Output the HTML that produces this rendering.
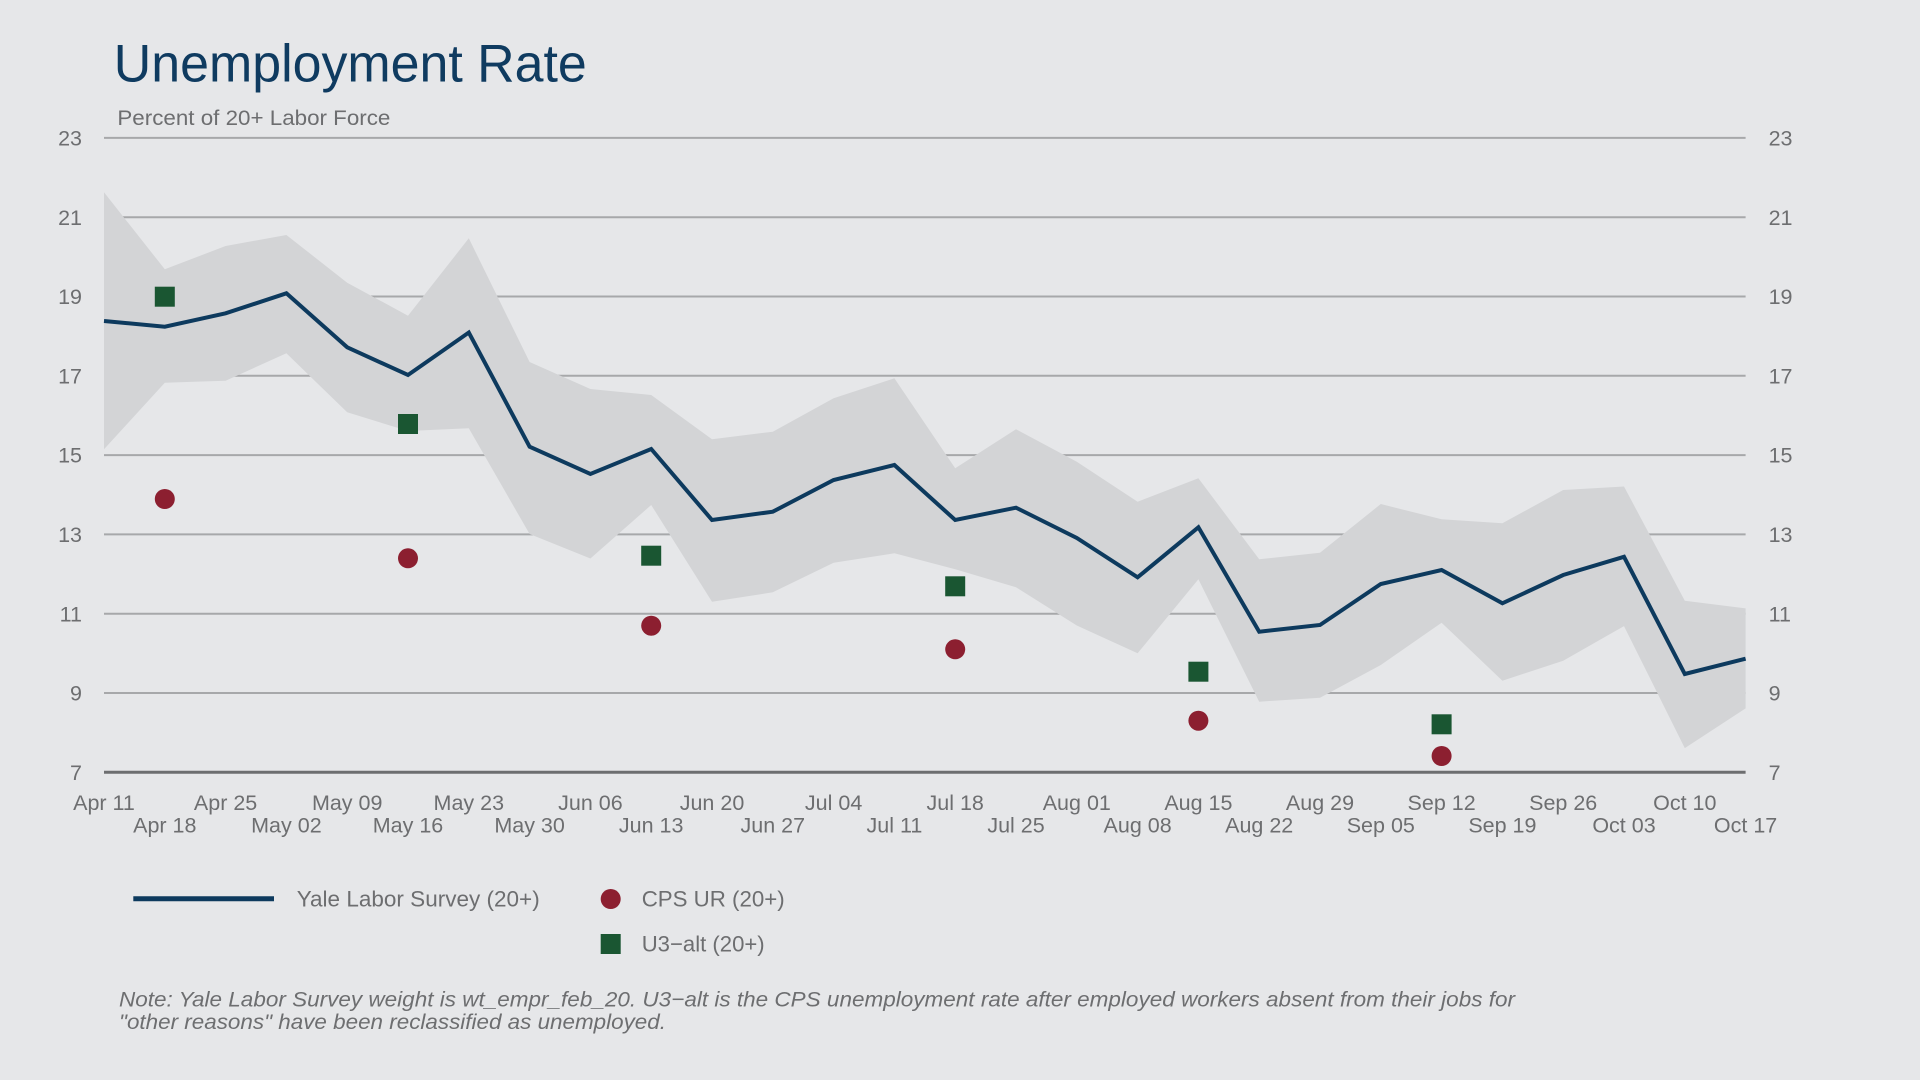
<!DOCTYPE html>
<html>
<head>
<meta charset="utf-8">
<style>
  html, body { margin: 0; padding: 0; background: #e6e7e9; }
  svg { display: block; }
  text { font-family: "Liberation Sans", Arial, sans-serif; }
</style>
</head>
<body>
<svg width="1920" height="1080" viewBox="0 0 1920 1080" xmlns="http://www.w3.org/2000/svg">
  <rect x="0" y="0" width="1920" height="1080" fill="#e6e7e9"/>

  <!-- Title -->
  <text x="113.8" y="81.7" font-size="53" fill="#0f3b60" textLength="473" lengthAdjust="spacingAndGlyphs">Unemployment Rate</text>
  <text x="117.4" y="125" font-size="21" fill="#6d6e70" textLength="273" lengthAdjust="spacingAndGlyphs">Percent of 20+ Labor Force</text>

  <!-- Gridlines -->
  <g stroke="#a7a8aa" stroke-width="2">
    <line x1="104" y1="137.9" x2="1745.6" y2="137.9"/>
    <line x1="104" y1="217.2" x2="1745.6" y2="217.2"/>
    <line x1="104" y1="296.5" x2="1745.6" y2="296.5"/>
    <line x1="104" y1="375.8" x2="1745.6" y2="375.8"/>
    <line x1="104" y1="455.1" x2="1745.6" y2="455.1"/>
    <line x1="104" y1="534.4" x2="1745.6" y2="534.4"/>
    <line x1="104" y1="613.7" x2="1745.6" y2="613.7"/>
    <line x1="104" y1="693" x2="1745.6" y2="693"/>
  </g>

  <!-- Y labels left -->
  <g font-size="21.5" fill="#6d6e70" text-anchor="end">
    <text x="82" y="145.5">23</text>
    <text x="82" y="224.8">21</text>
    <text x="82" y="304.1">19</text>
    <text x="82" y="383.4">17</text>
    <text x="82" y="462.7">15</text>
    <text x="82" y="542">13</text>
    <text x="82" y="621.3">11</text>
    <text x="82" y="700.6">9</text>
    <text x="82" y="779.9">7</text>
  </g>
  <!-- Y labels right -->
  <g font-size="21.5" fill="#6d6e70" text-anchor="start">
    <text x="1768.6" y="145.5">23</text>
    <text x="1768.6" y="224.8">21</text>
    <text x="1768.6" y="304.1">19</text>
    <text x="1768.6" y="383.4">17</text>
    <text x="1768.6" y="462.7">15</text>
    <text x="1768.6" y="542">13</text>
    <text x="1768.6" y="621.3">11</text>
    <text x="1768.6" y="700.6">9</text>
    <text x="1768.6" y="779.9">7</text>
  </g>

  <!-- Confidence band -->
  <polygon fill="#d3d4d6" points="
    104,192.3 164.8,269.3 225.6,246 286.4,235 347.2,282.7 408,315.7 468.8,238.3 529.6,362
    590.4,389 651.2,395 712,439.3 772.8,431.7 833.6,398.3 894.4,378.3 955.2,468.3 1016,429.3
    1076.8,461.7 1137.6,501.7 1198.4,478.3 1259.2,559.3 1320,552.7 1380.8,504 1441.6,519.3
    1502.4,523.3 1563.2,490 1624,486.5 1684.8,600.8 1745.6,608.4
    1745.6,708.4 1684.8,748.1 1624,626.1 1563.2,660.7 1502.4,680.7 1441.6,622.7 1380.8,665
    1320,697.7 1259.2,701.7 1198.4,579.3 1137.6,653.3 1076.8,625.5 1016,587.3 955.2,569.3
    894.4,553.3 833.6,562.7 772.8,592.3 712,601.7 651.2,505 590.4,558.5 529.6,534
    468.8,428.3 408,431 347.2,412.3 286.4,353.3 225.6,380.7 164.8,382.7 104,449.3"/>

  <!-- Main line -->
  <polyline fill="none" stroke="#0d3a5e" stroke-width="4" stroke-linejoin="miter" points="
    104,321 164.8,326.7 225.6,313.3 286.4,293.3 347.2,347.3 408,375 468.8,332.5 529.6,446.7
    590.4,474 651.2,449 712,520 772.8,511.7 833.6,480 894.4,465 955.2,520 1016,507.7
    1076.8,538 1137.6,577.3 1198.4,527.3 1259.2,631.7 1320,625 1380.8,584 1441.6,570
    1502.4,603.3 1563.2,575 1624,556.8 1684.8,674 1745.6,658.7"/>

  <!-- U3-alt squares -->
  <g fill="#1a5632">
    <rect x="154.8" y="286.7" width="20" height="20"/>
    <rect x="398" y="414" width="20" height="20"/>
    <rect x="641.2" y="545.7" width="20" height="20"/>
    <rect x="945.2" y="576.3" width="20" height="20"/>
    <rect x="1188.4" y="661.7" width="20" height="20"/>
    <rect x="1431.6" y="714.3" width="20" height="20"/>
  </g>

  <!-- CPS circles -->
  <g fill="#8c1f30">
    <circle cx="164.8" cy="499" r="10"/>
    <circle cx="408" cy="558.3" r="10"/>
    <circle cx="651.2" cy="625.7" r="10"/>
    <circle cx="955.2" cy="649.3" r="10"/>
    <circle cx="1198.4" cy="720.7" r="10"/>
    <circle cx="1441.6" cy="756" r="10"/>
  </g>

  <!-- Bottom axis -->
  <line x1="104" y1="772.3" x2="1745.6" y2="772.3" stroke="#6d6e70" stroke-width="3"/>

  <!-- X labels -->
  <g font-size="21.5" fill="#6d6e70" text-anchor="middle">
    <text x="104" y="810">Apr 11</text>
    <text x="225.6" y="810">Apr 25</text>
    <text x="347.2" y="810">May 09</text>
    <text x="468.8" y="810">May 23</text>
    <text x="590.4" y="810">Jun 06</text>
    <text x="712" y="810">Jun 20</text>
    <text x="833.6" y="810">Jul 04</text>
    <text x="955.2" y="810">Jul 18</text>
    <text x="1076.8" y="810">Aug 01</text>
    <text x="1198.4" y="810">Aug 15</text>
    <text x="1320" y="810">Aug 29</text>
    <text x="1441.6" y="810">Sep 12</text>
    <text x="1563.2" y="810">Sep 26</text>
    <text x="1684.8" y="810">Oct 10</text>

    <text x="164.8" y="832.7">Apr 18</text>
    <text x="286.4" y="832.7">May 02</text>
    <text x="408" y="832.7">May 16</text>
    <text x="529.6" y="832.7">May 30</text>
    <text x="651.2" y="832.7">Jun 13</text>
    <text x="772.8" y="832.7">Jun 27</text>
    <text x="894.4" y="832.7">Jul 11</text>
    <text x="1016" y="832.7">Jul 25</text>
    <text x="1137.6" y="832.7">Aug 08</text>
    <text x="1259.2" y="832.7">Aug 22</text>
    <text x="1380.8" y="832.7">Sep 05</text>
    <text x="1502.4" y="832.7">Sep 19</text>
    <text x="1624" y="832.7">Oct 03</text>
    <text x="1745.6" y="832.7">Oct 17</text>
  </g>

  <!-- Legend -->
  <line x1="133.3" y1="898.7" x2="274" y2="898.7" stroke="#0d3a5e" stroke-width="5"/>
  <text x="296.7" y="906.7" font-size="22.5" fill="#6d6e70" textLength="243" lengthAdjust="spacingAndGlyphs">Yale Labor Survey (20+)</text>
  <circle cx="610.7" cy="899" r="10" fill="#8c1f30"/>
  <text x="641.7" y="906.7" font-size="22.5" fill="#6d6e70" textLength="143" lengthAdjust="spacingAndGlyphs">CPS UR (20+)</text>
  <rect x="600.7" y="934" width="20" height="20" fill="#1a5632"/>
  <text x="641.7" y="951.7" font-size="22.5" fill="#6d6e70" textLength="123" lengthAdjust="spacingAndGlyphs">U3−alt (20+)</text>

  <!-- Note -->
  <g font-size="21.5" fill="#6d6e70" font-style="italic">
    <text x="119" y="1006.5" textLength="1396" lengthAdjust="spacingAndGlyphs">Note: Yale Labor Survey weight is wt_empr_feb_20. U3−alt is the CPS unemployment rate after employed workers absent from their jobs for</text>
    <text x="119" y="1029" textLength="547" lengthAdjust="spacingAndGlyphs">"other reasons" have been reclassified as unemployed.</text>
  </g>
</svg>
</body>
</html>
